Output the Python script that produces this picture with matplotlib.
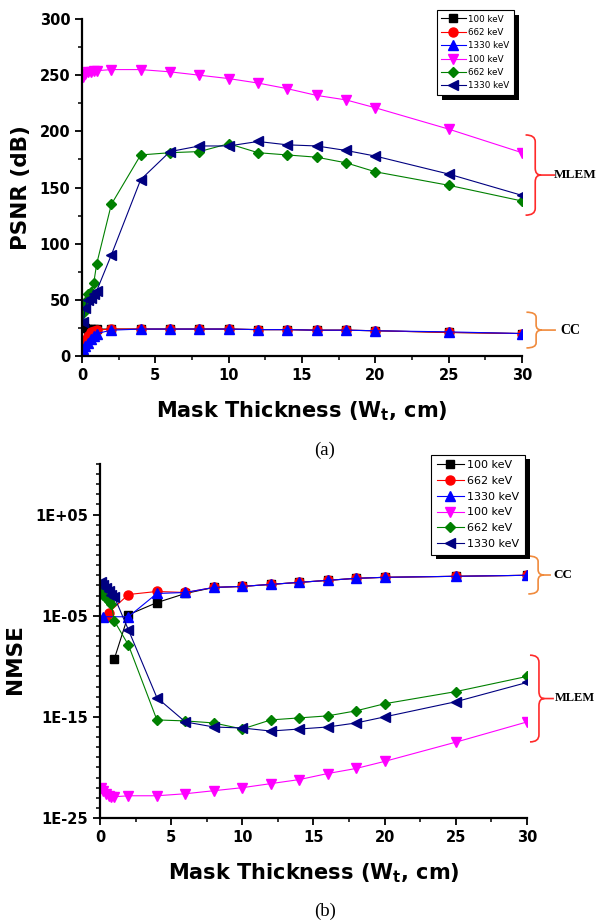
import matplotlib
matplotlib.use("Agg")
import matplotlib.pyplot as plt
import matplotlib.patheffects as pe
from matplotlib.path import Path
from matplotlib.patches import PathPatch
from matplotlib.ticker import FixedLocator, LogLocator, MultipleLocator, FuncFormatter, NullFormatter
import numpy as np

# ---- data ----
x_all = [0.1, 0.2, 0.4, 0.6, 0.8, 1.0, 2, 4, 6, 8, 10, 12, 14, 16, 18, 20, 25, 30]
labels = ['100 keV', '662 keV', '1330 keV', '100 keV', '662 keV', '1330 keV']

# (a) PSNR (dB)
psnr_cc_100 = [28, 25, 24, 24, 24, 24, 24, 24, 24, 24, 24, 23.5, 23.5, 23, 23, 22.5, 21, 20]
psnr_cc_662 = [10, 14, 18, 21, 22, 23, 24, 24, 24, 24, 24, 23.5, 23.5, 23, 23, 22.5, 21, 20]
psnr_cc_1330 = [6, 9, 12, 15, 18, 20, 23, 24, 24, 24, 24, 23.5, 23.5, 23, 23, 22.5, 21.5, 20]
psnr_ml_100 = [248, 251, 253, 253, 254, 254, 255, 255, 253, 250, 247, 243, 238, 232, 228, 221, 202, 181]
psnr_ml_662 = [38, 48, 55, 57, 65, 82, 135, 179, 181, 182, 189, 181, 179, 177, 172, 164, 152, 138]
psnr_ml_1330 = [30, 43, 50, 52, 55, 58, 90, 157, 182, 187, 187, 191, 188, 187, 183, 178, 162, 143]

# (b) NMSE, stored as log10 exponents
x_cc_100_b = [1, 2, 4, 6, 8, 10, 12, 14, 16, 18, 20, 25, 30]
nmse_cc_100_exp = [-9.3, -4.9, -3.7, -2.8, -2.2, -2.1, -1.9, -1.7, -1.5, -1.3, -1.2, -1.1, -1.0]
x_cc_662_b = [0.4, 0.6, 2, 4, 6, 8, 10, 12, 14, 16, 18, 20, 25, 30]
nmse_cc_662_exp = [-5.1, -4.7, -2.9, -2.6, -2.7, -2.2, -2.1, -1.9, -1.7, -1.5, -1.3, -1.2, -1.1, -1.0]
x_cc_1330_b = [0.2, 2, 4, 6, 8, 10, 12, 14, 16, 18, 20, 25, 30]
nmse_cc_1330_exp = [-5.1, -5.1, -2.8, -2.7, -2.2, -2.1, -1.9, -1.7, -1.5, -1.3, -1.2, -1.1, -1.0]
nmse_ml_100_exp = [-22.0, -22.3, -22.6, -22.8, -22.9, -22.9, -22.8, -22.8, -22.6, -22.3, -22.0, -21.6, -21.2, -20.6, -20.1, -19.4, -17.5, -15.5]
nmse_ml_662_exp = [-2.7, -2.9, -3.2, -3.5, -3.8, -5.5, -7.9, -15.3, -15.4, -15.6, -16.2, -15.3, -15.1, -14.9, -14.4, -13.7, -12.5, -11.0]
nmse_ml_1330_exp = [-1.7, -2.0, -2.3, -2.6, -2.9, -3.1, -6.4, -13.1, -15.5, -16.0, -16.1, -16.4, -16.2, -16.0, -15.6, -15.0, -13.5, -11.6]

colors = ['black', 'red', 'blue', 'magenta', 'green', 'navy']
markers = ['s', 'o', '^', 'v', 'D', '<']
msizes = [5.5, 6.5, 7, 7, 5.5, 7]

plt.rcParams['font.family'] = 'DejaVu Sans'
plt.rcParams['mathtext.fontset'] = 'dejavusans'

fig = plt.figure(figsize=(5.99, 9.24), dpi=100)
ax1 = fig.add_axes([0.1369, 0.6147, 0.7346, 0.3647])
ax2 = fig.add_axes([0.1669, 0.1147, 0.7129, 0.3831])


def style_axes(ax):
    for s in ['top', 'right']:
        ax.spines[s].set_visible(False)
    for s in ['left', 'bottom']:
        ax.spines[s].set_linewidth(1.6)
    ax.tick_params(which='major', direction='out', length=5, width=1.3, labelsize=10.5)
    ax.tick_params(which='minor', direction='out', length=3, width=1.1)
    for t in ax.get_xticklabels() + ax.get_yticklabels():
        t.set_fontweight('bold')


def brace(ax, x, y0, y1, w, dash, r, color):
    # curly brace "}" in axes coordinates, outside the axes
    ym = (y0 + y1) / 2.0
    verts = [(x - w, y1), (x, y1), (x, y1 - r), (x, ym + r), (x, ym), (x + w * 0.6, ym),
             (x + w * 0.6, ym), (x, ym), (x, ym - r), (x, y0 + r), (x, y0), (x - w, y0),
             (x + w * 0.6, ym), (x + dash, ym)]
    codes = [Path.MOVETO, Path.CURVE3, Path.CURVE3, Path.LINETO, Path.CURVE3, Path.CURVE3,
             Path.MOVETO, Path.CURVE3, Path.CURVE3, Path.LINETO, Path.CURVE3, Path.CURVE3,
             Path.MOVETO, Path.LINETO]
    p = PathPatch(Path(verts, codes), facecolor='none', edgecolor=color, lw=1.2,
                  transform=ax.transAxes, clip_on=False)
    ax.add_patch(p)


def shadow_legend(ax, fontsize, anchor, labelspacing, handlelength):
    leg = ax.legend(loc='upper right', bbox_to_anchor=anchor, bbox_transform=fig.transFigure,
                    fontsize=fontsize, frameon=True, fancybox=False, labelspacing=labelspacing,
                    handlelength=handlelength, handletextpad=0.3, borderpad=0.5,
                    borderaxespad=0)
    fr = leg.get_frame()
    fr.set_edgecolor('black')
    fr.set_linewidth(0.8)
    fr.set_alpha(1)
    fr.set_path_effects([pe.SimplePatchShadow(offset=(3.5, -3.5), shadow_rgbFace='black', alpha=1.0),
                         pe.Normal()])
    return leg


# ---- (a) PSNR ----
psnr_series = [psnr_cc_100, psnr_cc_662, psnr_cc_1330, psnr_ml_100, psnr_ml_662, psnr_ml_1330]
for ys, c, m, ms, lab in zip(psnr_series, colors, markers, msizes, labels):
    ax1.plot(x_all, ys, color=c, marker=m, markersize=ms, lw=0.8, label=lab, clip_on=True)

ax1.set_xlim(0, 30)
ax1.set_ylim(0, 300)
ax1.xaxis.set_major_locator(MultipleLocator(5))
ax1.xaxis.set_minor_locator(MultipleLocator(2.5))
ax1.yaxis.set_major_locator(MultipleLocator(50))
ax1.yaxis.set_minor_locator(MultipleLocator(25))
ax1.set_ylabel('PSNR (dB)', fontsize=15.5, fontweight='bold', labelpad=6)
ax1.set_xlabel(r'Mask Thickness (W$_{\bf t}$, cm)', fontsize=15, fontweight='bold', labelpad=12)
style_axes(ax1)
shadow_legend(ax1, 6.3, (0.858, 0.989), 0.5, 2.8)

brace(ax1, 1.03, 0.418, 0.656, 0.022, 0.045, 0.02, '#ff2a2a')
ax1.text(1.072, 0.537, 'MLEM', transform=ax1.transAxes, fontsize=9.5, fontweight='bold',
         family='Liberation Serif', va='center', ha='left')
brace(ax1, 1.032, 0.024, 0.13, 0.022, 0.045, 0.015, '#f08a3c')
ax1.text(1.088, 0.077, 'CC', transform=ax1.transAxes, fontsize=10, fontweight='bold',
         family='Liberation Serif', va='center', ha='left')
fig.text(0.542, 0.513, '(a)', fontsize=13.5, family='Liberation Serif', ha='center', va='center')

# ---- (b) NMSE ----
nmse_x = [x_cc_100_b, x_cc_662_b, x_cc_1330_b, x_all, x_all, x_all]
nmse_exp = [nmse_cc_100_exp, nmse_cc_662_exp, nmse_cc_1330_exp,
            nmse_ml_100_exp, nmse_ml_662_exp, nmse_ml_1330_exp]
for xs, es, c, m, ms, lab in zip(nmse_x, nmse_exp, colors, markers, msizes, labels):
    ax2.plot(xs, np.power(10.0, es), color=c, marker=m, markersize=ms, lw=0.8, label=lab, clip_on=True)

ax2.set_yscale('log')
ax2.set_xlim(0, 30)
ax2.set_ylim(1e-25, 1e10)
ax2.xaxis.set_major_locator(MultipleLocator(5))
ax2.xaxis.set_minor_locator(MultipleLocator(2.5))
ax2.yaxis.set_major_locator(FixedLocator([1e-25, 1e-15, 1e-5, 1e5]))
ax2.yaxis.set_minor_locator(LogLocator(base=10, subs=(1.0,), numticks=60))
ax2.yaxis.set_minor_formatter(NullFormatter())
ax2.yaxis.set_major_formatter(FuncFormatter(lambda v, p: '1E%+03d' % int(round(np.log10(v)))))
ax2.set_ylabel('NMSE', fontsize=15.5, fontweight='bold')
ax2.yaxis.set_label_coords(-0.175, 0.45)
ax2.set_xlabel(r'Mask Thickness (W$_{\bf t}$, cm)', fontsize=15, fontweight='bold', labelpad=12)
style_axes(ax2)
shadow_legend(ax2, 8, (0.876, 0.508), 0.52, 2.4)

brace(ax2, 1.026, 0.633, 0.74, 0.023, 0.03, 0.015, '#f08a3c')
ax2.text(1.062, 0.687, 'CC', transform=ax2.transAxes, fontsize=9.5, fontweight='bold',
         family='Liberation Serif', va='center', ha='left')
brace(ax2, 1.028, 0.215, 0.46, 0.021, 0.035, 0.02, '#ff2a2a')
ax2.text(1.066, 0.338, 'MLEM', transform=ax2.transAxes, fontsize=9, fontweight='bold',
         family='Liberation Serif', va='center', ha='left')
fig.text(0.542, 0.014, '(b)', fontsize=13.5, family='Liberation Serif', ha='center', va='center')

fig.savefig('out.png', dpi=100)
